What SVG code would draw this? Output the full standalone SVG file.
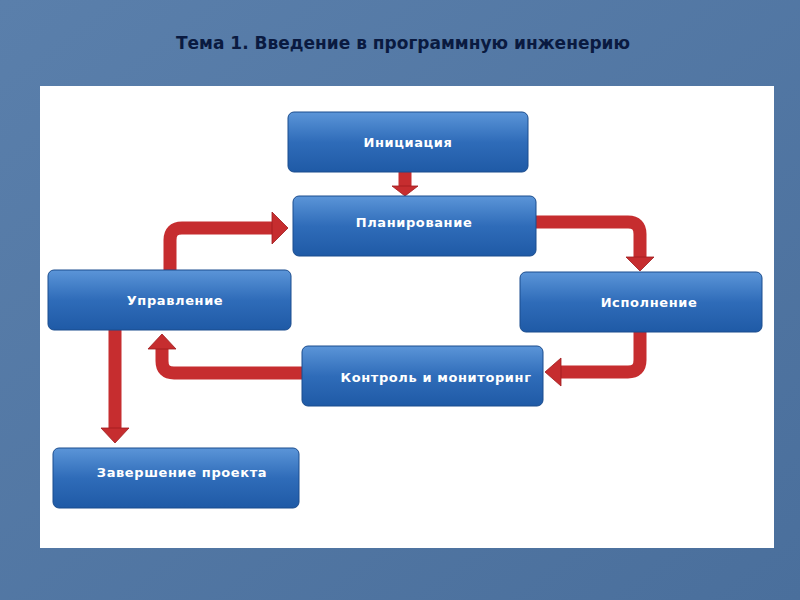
<svg xmlns="http://www.w3.org/2000/svg" width="800" height="600" viewBox="0 0 800 600">
<defs>
<linearGradient id="bg" x1="0" y1="0" x2="1" y2="1"><stop offset="0" stop-color="#5a7fab"/><stop offset="1" stop-color="#4a6f9c"/></linearGradient>
<linearGradient id="nb" x1="0" y1="0" x2="0" y2="1"><stop offset="0" stop-color="#5b95d8"/><stop offset="0.5" stop-color="#2f6cb9"/><stop offset="1" stop-color="#1f5aa6"/></linearGradient>
<linearGradient id="ar" x1="0" y1="0" x2="1" y2="1"><stop offset="0" stop-color="#e0504f"/><stop offset="1" stop-color="#a8191b"/></linearGradient>
</defs>
<style>
.n{fill:url(#nb);stroke:#1a4c8e;stroke-width:1}
.t{font-family:"DejaVu Sans",sans-serif;font-size:13px;font-weight:bold;fill:#fff;text-anchor:middle;letter-spacing:0.6px}
.s{fill:none;stroke:#c62d2f;stroke-width:13;stroke-linejoin:round}
.h{fill:#c62d2f;stroke:#9e1a1c;stroke-width:0.8}
</style>
<rect width="800" height="600" fill="url(#bg)"/>
<text x="403" y="49" font-family="'DejaVu Sans',sans-serif" font-size="17" font-weight="bold" fill="#0a1a40" text-anchor="middle">Тема 1. Введение в программную инженерию</text>
<rect x="40" y="86" width="734" height="462" fill="#fff"/>
<g id="connectors">
<path class="s" d="M405 172V187"/><polygon class="h" points="392,186 418,186 405,196"/>
<path class="s" d="M170 270V240Q170 228 182 228H273"/><polygon class="h" points="272,212 288,228 272,244"/>
<path class="s" d="M536 222H628Q640 222 640 234V258"/><polygon class="h" points="626,257 654,257 640,271"/>
<path class="s" d="M640 332V360Q640 372 628 372H560"/><polygon class="h" points="561,358 561,386 545,372"/>
<path class="s" d="M302 373H174Q162 373 162 361V348"/><polygon class="h" points="148,349 176,349 162,334"/>
<path class="s" d="M115 330V429"/><polygon class="h" points="101,428 129,428 115,443"/>
</g>
<g id="n1"><rect class="n" x="288" y="112" width="240" height="60" rx="6"/><text class="t" x="408" y="147">Инициация</text></g>
<g id="n2"><rect class="n" x="293" y="196" width="243" height="60" rx="6"/><text class="t" x="414" y="227">Планирование</text></g>
<g id="n3"><rect class="n" x="48" y="270" width="243" height="60" rx="6"/><text class="t" x="175" y="305">Управление</text></g>
<g id="n4"><rect class="n" x="520" y="272" width="242" height="60" rx="6"/><text class="t" x="649" y="307">Исполнение</text></g>
<g id="n5"><rect class="n" x="302" y="346" width="241" height="60" rx="6"/><text class="t" x="436" y="382">Контроль и мониторинг</text></g>
<g id="n6"><rect class="n" x="53" y="448" width="246" height="60" rx="6"/><text class="t" x="182" y="477">Завершение проекта</text></g>
</svg>
